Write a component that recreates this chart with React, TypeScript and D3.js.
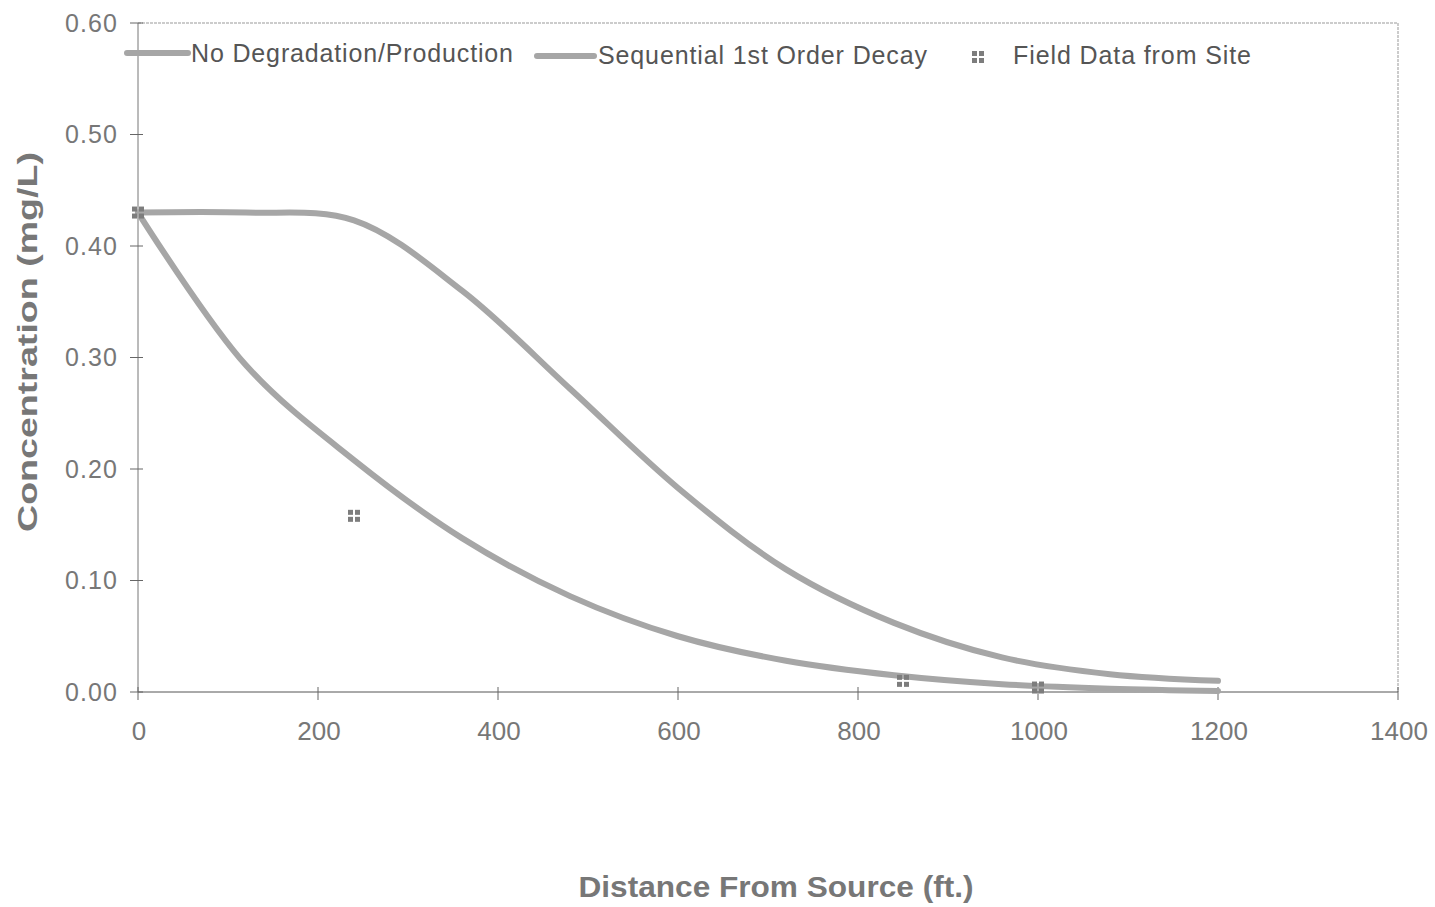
import React from "react";
import * as d3 from "d3";

const distances = [0, 120, 240, 360, 480, 600, 720, 840, 960, 1080, 1200];
const noDegradation = [0.43, 0.43, 0.423, 0.36, 0.272, 0.183, 0.11, 0.062, 0.031, 0.016, 0.01];
const sequentialDecay = [0.43, 0.293, 0.208, 0.138, 0.086, 0.05, 0.028, 0.015, 0.007, 0.003, 0.001];
const fieldX = [0, 240, 850, 1000];
const fieldY = [0.43, 0.158, 0.01, 0.004];
const xTicks = [0, 200, 400, 600, 800, 1000, 1200, 1400];
const yTicks = [0, 0.1, 0.2, 0.3, 0.4, 0.5, 0.6];

const W = 1435, H = 907;
const left = 138, right = 1398, top = 23, bottom = 692;

export default function App() {
  const x = d3.scaleLinear().domain([0, 1400]).range([left, right]);
  const y = d3.scaleLinear().domain([0, 0.6]).range([bottom, top]);
  const line = d3
    .line<number>()
    .x((_, i) => x(distances[i]))
    .y((d) => y(d))
    .curve(d3.curveCatmullRom.alpha(0.5));
  const lineColor = "#a6a6a6";
  const textColor = "#777";
  const font = "Arial, 'Liberation Sans', sans-serif";

  const marker = (cx: number, cy: number, key: string) => (
    <g key={key} transform={`translate(${cx},${cy})`}>
      <rect x={-6} y={-6} width={5} height={5} fill="#7d7d7d" />
      <rect x={1} y={-6} width={5} height={5} fill="#7d7d7d" />
      <rect x={-6} y={1} width={5} height={5} fill="#7d7d7d" />
      <rect x={1} y={1} width={5} height={5} fill="#7d7d7d" />
    </g>
  );

  return (
    <svg width={W} height={H} style={{ position: "absolute", left: 0, top: 0 }} fontFamily={font}>
      <rect width={W} height={H} fill="#fff" />
      <line x1={left} x2={right} y1={top} y2={top} stroke="#999" strokeWidth={1} strokeDasharray="3,1" />
      <line x1={right} x2={right} y1={top} y2={bottom} stroke="#999" strokeWidth={1} strokeDasharray="3,1" />
      <line x1={left} x2={left} y1={top} y2={bottom} stroke="#777" strokeWidth={1} />
      <line x1={left} x2={right} y1={bottom} y2={bottom} stroke="#555" strokeWidth={1} />
      {yTicks.map((t) => (
        <g key={"y" + t}>
          <line x1={left - 8} x2={left + 5} y1={y(t)} y2={y(t)} stroke="#666" />
          <text x={117} y={y(t)} dy="0.35em" textAnchor="end" fontSize={25} textLength={52} lengthAdjust="spacing" fill={textColor}>
            {t.toFixed(2)}
          </text>
        </g>
      ))}
      {xTicks.map((t) => (
        <g key={"x" + t}>
          <line x1={x(t)} x2={x(t)} y1={bottom - 5} y2={bottom + 8} stroke="#666" />
          <text x={x(t) + 1} y={740} textAnchor="middle" fontSize={26} fill={textColor}>
            {t}
          </text>
        </g>
      ))}
      <path d={line(noDegradation) || ""} fill="none" stroke={lineColor} strokeWidth={6} strokeLinecap="round" />
      <path d={line(sequentialDecay) || ""} fill="none" stroke={lineColor} strokeWidth={6} strokeLinecap="round" />
      {fieldX.map((fx, i) => marker(x(fx), y(fieldY[i]), "m" + i))}
      <line x1={127} x2={188} y1={53} y2={53} stroke={lineColor} strokeWidth={6} strokeLinecap="round" />
      <text x={191} y={62} fontSize={25} textLength={322} lengthAdjust="spacing" fill="#555">
        No Degradation/Production
      </text>
      <line x1={537} x2={594} y1={56} y2={56} stroke={lineColor} strokeWidth={6} strokeLinecap="round" />
      <text x={598} y={64} fontSize={25} textLength={329} lengthAdjust="spacing" fill="#555">
        Sequential 1st Order Decay
      </text>
      {marker(978, 57, "leg")}
      <text x={1013} y={64} fontSize={25} textLength={238} lengthAdjust="spacing" fill="#555">
        Field Data from Site
      </text>
      <text x={776} y={897} textAnchor="middle" fontSize={29} fontWeight="bold" textLength={395} lengthAdjust="spacingAndGlyphs" fill={textColor}>
        Distance From Source (ft.)
      </text>
      <text
        transform={`translate(37,342) rotate(-90)`}
        textAnchor="middle"
        fontSize={28}
        fontWeight="bold"
        textLength={380}
        lengthAdjust="spacingAndGlyphs"
        fill={textColor}
      >
        Concentration (mg/L)
      </text>
    </svg>
  );
}
